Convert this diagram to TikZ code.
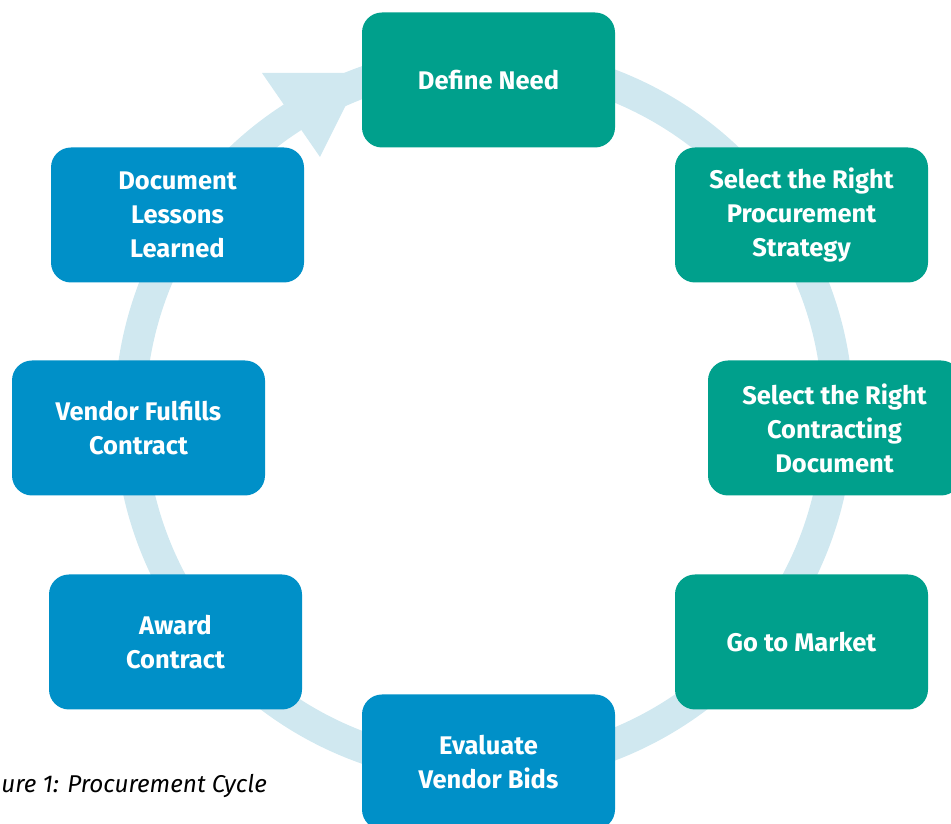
\documentclass[tikz,border=0pt]{standalone}
\usepackage{fontspec}
\setmainfont{Fira Sans}
\definecolor{tealbox}{RGB}{0,160,140}
\definecolor{bluebox}{RGB}{0,144,200}
\definecolor{ringcol}{RGB}{208,232,240}
\begin{document}
\begin{tikzpicture}[x=1pt,y=1pt,
  stagebox/.style={rounded corners=20pt, minimum width=253pt, minimum height=135pt,
    inner sep=0pt, text=white, align=center, font=\fontsize{25.5}{34}\selectfont\bfseries},
  tealstage/.style={stagebox, fill=tealbox},
  bluestage/.style={stagebox, fill=bluebox},
  ringline/.style={draw=ringcol, line width=31pt}]
\useasboundingbox (0,0) rectangle (951,824);
\clip (0,0) rectangle (951,824);
% ring
\draw[ringline] (484,409) ++(122.8:354) arc[start angle=122.8, end angle=-255, radius=354];
\fill[ringcol] (262,751) -- (362,751) -- (320,667) -- cycle;
% stages
\node[tealstage] (define) at (488.5,744) {Define Need};
\node[tealstage] (strategy) at (801.5,609) {Select the Right\\Procurement\\Strategy};
\node[tealstage] (contract) at (834.5,396) {Select the Right\\Contracting\\Document};
\node[tealstage] (market) at (801.5,182) {Go to Market};
\node[bluestage] (evaluate) at (488.5,62) {Evaluate\\Vendor Bids};
\node[bluestage] (award) at (175.5,182) {Award\\Contract};
\node[bluestage] (fulfill) at (138.5,396) {Vendor Fulfills\\Contract};
\node[bluestage] (lessons) at (177.5,609) {Document\\Lessons\\Learned};
% caption
\node[anchor=base east, inner sep=0pt, font=\fontsize{24.3}{28}\selectfont\itshape] (caption) at (267,31) {ure 1: Procurement Cycle};
\end{tikzpicture}
\end{document}
